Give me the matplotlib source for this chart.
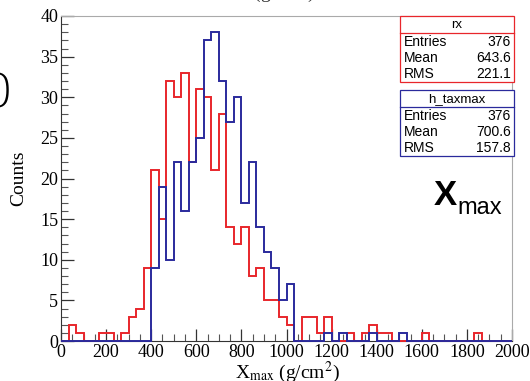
import numpy as np
import matplotlib
matplotlib.use("Agg")
import matplotlib.pyplot as plt
from matplotlib.patches import Rectangle

# histogram binning: 60 bins from 0 to 2000 g/cm2
nbins = 60
xmin, xmax = 0, 2000

# rx (red) counts per bin
rx_counts = [0, 2, 1, 0, 0, 1, 1, 0, 1, 3,
             4, 9, 21, 15, 32, 30, 33, 22, 31, 30,
             21, 28, 14, 12, 14, 8, 9, 5, 5, 3,
             2, 0, 3, 3, 1, 3, 0, 0, 1, 0,
             1, 2, 1, 1, 0, 0, 0, 0, 1, 0,
             0, 0, 0, 0, 0, 1, 0, 0, 0, 0]

# h_taxmax (blue) counts per bin
tax_counts = [0, 0, 0, 0, 0, 0, 0, 0, 0, 0,
              0, 0, 9, 19, 10, 22, 16, 22, 25, 37,
              38, 32, 27, 30, 17, 22, 14, 11, 9, 5,
              7, 0, 0, 0, 0, 1, 0, 1, 0, 0,
              0, 1, 0, 0, 0, 1, 0, 0, 0, 0,
              0, 0, 0, 0, 0, 0, 0, 0, 0, 0]

# stat box texts
rx_stats = [("Entries", "376"), ("Mean", "643.6"), ("RMS", "221.1")]
tax_stats = [("Entries", "376"), ("Mean", "700.6"), ("RMS", "157.8")]

red = "#e8262b"
blue = "#2a2a9c"
W, H = 530, 381

fig = plt.figure(figsize=(W / 100, H / 100), dpi=100)
ax = fig.add_axes([61 / W, 1 - 341 / H, 451 / W, 325 / H])

edges = np.linspace(xmin, xmax, nbins + 1)
ax.stairs(rx_counts, edges, color=red, lw=1.4, baseline=0, clip_on=False, zorder=3)
ax.stairs(tax_counts, edges, color=blue, lw=1.4, baseline=0, clip_on=False, zorder=4)

ax.set_xlim(xmin, xmax)
ax.set_ylim(0, 40)
ax.set_xticks(np.arange(0, 2001, 200))
ax.set_xticks(np.arange(0, 2001, 50), minor=True)
ax.set_yticks(np.arange(0, 41, 5))
ax.set_yticks(np.arange(0, 41, 1), minor=True)
ax.tick_params(direction="in", which="major", length=9, width=0.9, color="#333333",
               labelsize=13, pad=2)
ax.tick_params(direction="in", which="minor", length=5, width=0.8, color="#555555")
for lab in ax.get_xticklabels() + ax.get_yticklabels():
    lab.set_fontfamily("Liberation Serif")

ax.spines["left"].set_color("#333333")
ax.spines["bottom"].set_color("#333333")
ax.spines["top"].set_color("#aaaaaa")
ax.spines["right"].set_color("#aaaaaa")

ax.set_ylabel("Counts", fontfamily="Liberation Serif", fontsize=14)
ax.yaxis.set_label_coords(-34 / 451, 0.5)
fig.text(287 / W, 1 - 378 / H, r"X$_{\rm max}$ (g/cm$^2$)", ha="center", va="baseline",
         fontfamily="Liberation Serif", fontsize=14, math_fontfamily="stix")

# clipped pieces of neighbouring text along the top and left edges
fig.text(262 / W, 1 + 2 / H, r"X$_{\rm max}$ (g/cm$^2$)", ha="center", va="baseline",
         fontfamily="Liberation Serif", fontsize=14, math_fontfamily="stix", color="#333333")
fig.text(13 / W, 1 - 95 / H, "0", ha="right", va="center",
         fontfamily="DejaVu Sans", fontweight="light", fontsize=34)

# big Xmax label
fig.text(434 / W, 1 - 205 / H, "X", ha="left", va="baseline",
         fontfamily="Liberation Sans", fontweight="bold", fontsize=25)
fig.text(457 / W, 1 - 214 / H, "max", ha="left", va="baseline",
         fontfamily="Liberation Sans", fontsize=17)


def stat_box(top, title, rows, color):
    x0, x1 = 400, 514
    rowh = 16
    hdr = 17
    bottom = top + hdr + rowh * len(rows) + 1
    fig.patches.append(Rectangle((x0 / W, 1 - bottom / H), (x1 - x0) / W, (bottom - top) / H,
                                 transform=fig.transFigure, facecolor="white",
                                 edgecolor=color, lw=0.9, zorder=5))
    fig.lines.append(plt.Line2D([x0 / W, x1 / W], [1 - (top + hdr) / H] * 2,
                                transform=fig.transFigure, color=color, lw=0.9, zorder=6))
    fig.text((x0 + x1) / 2 / W, 1 - (top + hdr / 2 + 1) / H, title, ha="center", va="center",
             fontfamily="Liberation Sans", fontsize=9.5, zorder=7)
    for i, (name, val) in enumerate(rows):
        yc = top + hdr + rowh * i + rowh / 2 + 1
        fig.text((x0 + 4) / W, 1 - yc / H, name, ha="left", va="center",
                 fontfamily="Liberation Sans", fontsize=10, zorder=7)
        fig.text((x1 - 3) / W, 1 - yc / H, val, ha="right", va="center",
                 fontfamily="Liberation Sans", fontsize=10, zorder=7)


stat_box(16, "rx", rx_stats, red)
stat_box(90, "h_taxmax", tax_stats, blue)

fig.savefig("out.png", dpi=100)
